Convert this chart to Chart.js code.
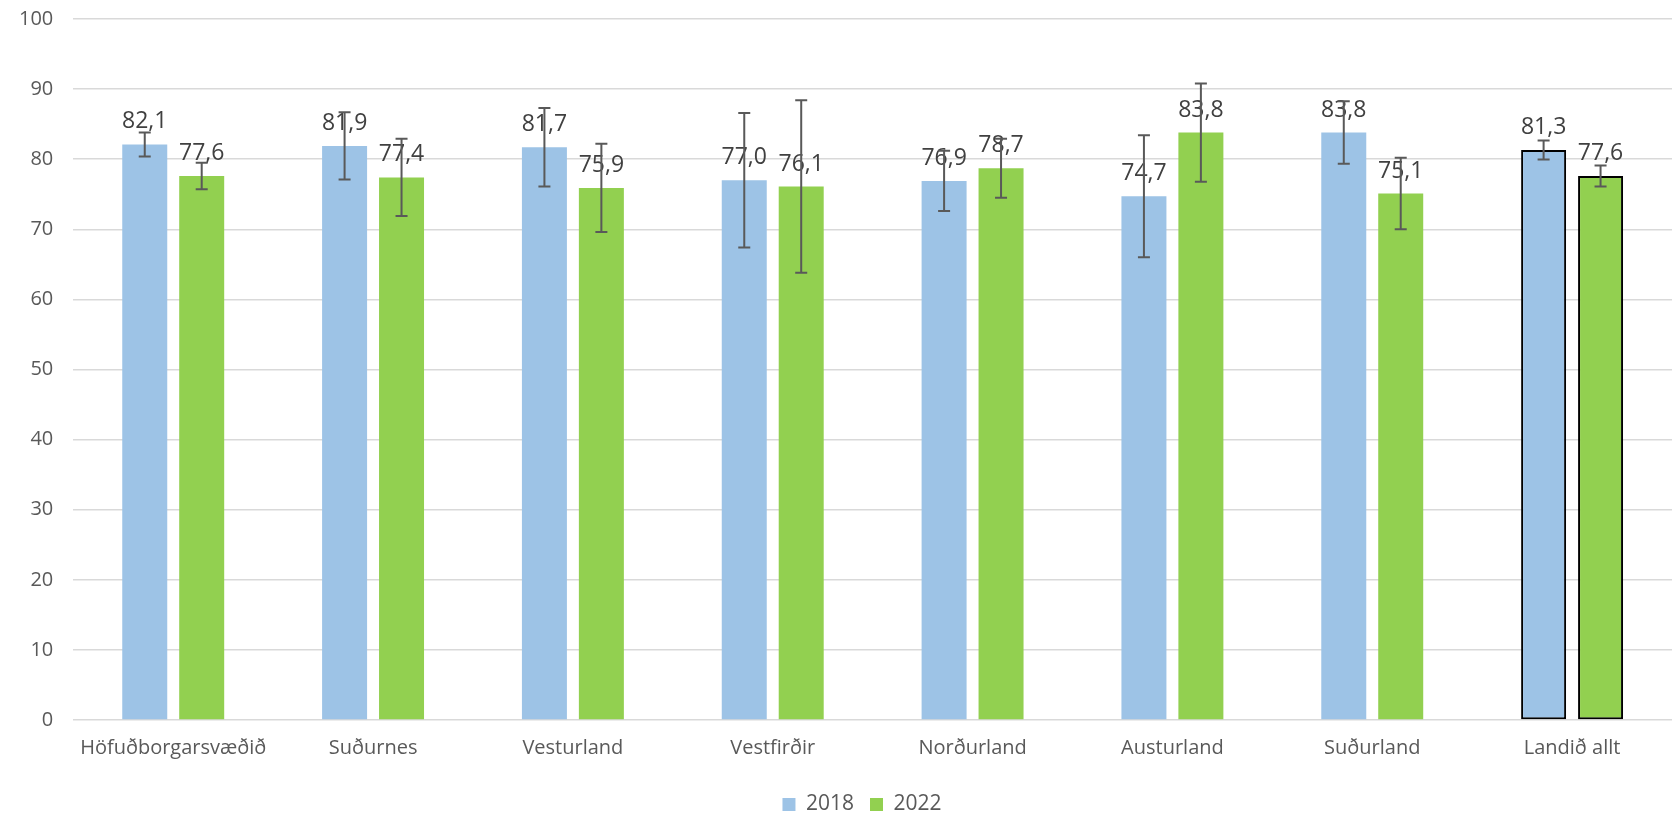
<!DOCTYPE html>
<html>
<head>
<meta charset="utf-8">
<script src="https://cdn.jsdelivr.net/npm/chart.js@4.4.1/dist/chart.umd.min.js"></script>
<style>
  html, body { margin: 0; padding: 0; background: #fff; }
  #wrap { width: 1673px; height: 814px; }
</style>
</head>
<body>
<div id="wrap"><canvas id="chart"></canvas></div>
<script>
const regions = ['Höfuðborgarsvæðið', 'Suðurnes', 'Vesturland', 'Vestfirðir', 'Norðurland', 'Austurland', 'Suðurland', 'Landið allt'];
const values2018 = [82.1, 81.9, 81.7, 77.0, 76.9, 74.7, 83.8, 81.3];
const values2022 = [77.6, 77.4, 75.9, 76.1, 78.7, 83.8, 75.1, 77.6];
// half-width of the error bars
const err2018 = [1.7, 4.8, 5.6, 9.6, 4.3, 8.7, 4.45, 1.35];
const err2022 = [1.9, 5.5, 6.3, 12.3, 4.2, 7.0, 5.1, 1.5];

const FONT = '"Open Sans", "DejaVu Sans", sans-serif';
const errors = [err2018, err2022];

const borderWidths = regions.map((r, i) => i === regions.length - 1 ? 2 : 0);

const labelsAndErrors = {
    id: 'labelsAndErrors',
    afterDatasetsDraw(chart) {
        const ctx = chart.ctx;
        const yScale = chart.scales.y;
        chart.data.datasets.forEach((ds, di) => {
            const meta = chart.getDatasetMeta(di);
            meta.data.forEach((bar, i) => {
                ctx.save();
                ctx.font = '23px ' + FONT;
                ctx.fillStyle = '#404040';
                ctx.textAlign = 'center';
                ctx.textBaseline = 'alphabetic';
                ctx.fillText(ds.data[i].toFixed(1).replace('.', ','), bar.x, bar.y - 16);
                ctx.restore();
            });
        });
        chart.data.datasets.forEach((ds, di) => {
            const meta = chart.getDatasetMeta(di);
            meta.data.forEach((bar, i) => {
                const v = ds.data[i];
                const e = errors[di][i];
                const yTop = yScale.getPixelForValue(v + e);
                const yBot = yScale.getPixelForValue(v - e);
                ctx.save();
                ctx.strokeStyle = '#595959';
                ctx.lineWidth = 2;
                ctx.beginPath();
                ctx.moveTo(bar.x, yTop);
                ctx.lineTo(bar.x, yBot);
                ctx.moveTo(bar.x - 6, yTop);
                ctx.lineTo(bar.x + 6, yTop);
                ctx.moveTo(bar.x - 6, yBot);
                ctx.lineTo(bar.x + 6, yBot);
                ctx.stroke();
                ctx.restore();
            });
        });
    }
};

// pull the legend a little closer to the bottom edge, and centre it under the plot
const legendShift = {
    id: 'legendShift',
    beforeInit(chart) {
        const fit = chart.legend.fit;
        chart.legend.fit = function() {
            fit.bind(chart.legend)();
            this.height -= 11;
        };
    },
    afterLayout(chart) {
        chart.legend.left += 20;
        chart.legend.right += 20;
    }
};

new Chart(document.getElementById('chart'), {
    type: 'bar',
    data: {
        labels: regions,
        datasets: [{
            label: '2018',
            data: values2018,
            backgroundColor: '#9DC3E6',
            borderColor: '#000000',
            borderWidth: borderWidths,
            borderSkipped: false,
            categoryPercentage: 0.57,
            barPercentage: 0.79
        }, {
            label: '2022',
            data: values2022,
            backgroundColor: '#92D050',
            borderColor: '#000000',
            borderWidth: borderWidths,
            borderSkipped: false,
            categoryPercentage: 0.57,
            barPercentage: 0.79
        }]
    },
    options: {
        responsive: true,
        maintainAspectRatio: false,
        animation: false,
        layout: {
            padding: { top: 1, right: 1, left: 12, bottom: 0 }
        },
        plugins: {
            legend: {
                position: 'bottom',
                labels: {
                    boxWidth: 13,
                    boxHeight: 13,
                    padding: 16,
                    color: '#595959',
                    font: { family: FONT, size: 21 }
                }
            },
            tooltip: { enabled: false }
        },
        scales: {
            x: {
                grid: { display: false },
                border: { display: false },
                ticks: {
                    color: '#595959',
                    font: { family: FONT, size: 20 },
                    padding: 8
                },
                afterFit(scale) {
                    scale.height += 10;
                }
            },
            y: {
                min: 0,
                max: 100,
                ticks: {
                    stepSize: 10,
                    color: '#595959',
                    font: { family: FONT, size: 20 },
                    padding: 7
                },
                grid: {
                    color: '#d9d9d9',
                    lineWidth: 1.5,
                    drawTicks: true,
                    tickLength: 13,
                    tickColor: 'rgba(0,0,0,0)'
                },
                border: { display: false }
            }
        }
    },
    plugins: [labelsAndErrors, legendShift]
});
</script>
</body>
</html>
